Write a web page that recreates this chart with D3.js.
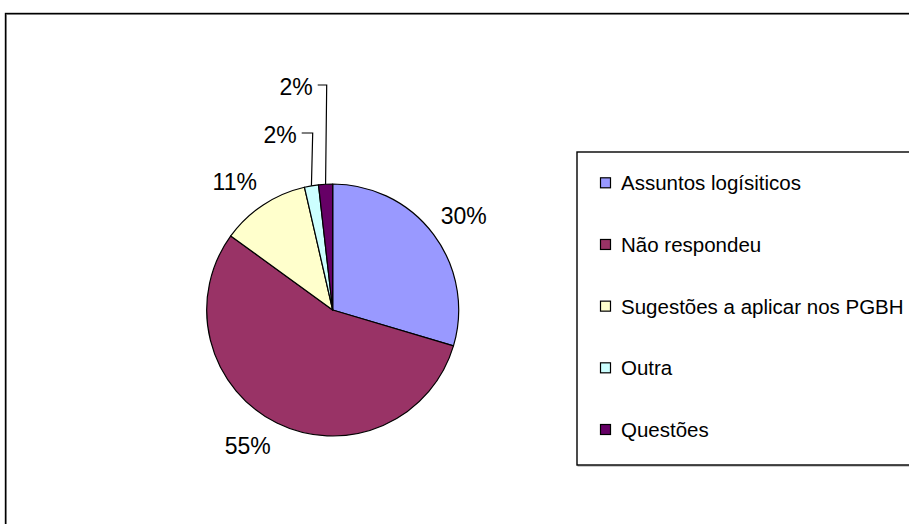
<!DOCTYPE html>
<html>
<head>
<meta charset="utf-8">
<script src="https://cdn.jsdelivr.net/npm/d3@7"></script>
<style>
  html, body { margin: 0; padding: 0; background: #fff; }
  svg { display: block; }
  text { font-family: "Liberation Sans", Arial, sans-serif; fill: #000; }
</style>
</head>
<body>
<svg id="chart" width="909" height="524"></svg>
<script>
// ---- data ----
const categories = ["Assuntos logísiticos", "Não respondeu", "Sugestões a aplicar nos PGBH", "Outra", "Questões"];
const values = [29.6, 55.4, 11.4, 1.8, 1.8];
const colors = ["#9999FF", "#993366", "#FFFFCC", "#CCFFFF", "#660066"];

// ---- layout ----
const W = 909, H = 524;
const cx = 332.7, cy = 310, R = 126;
// label anchor positions (relative to the pie centre) and leader elbow for small slices
const labelLayout = [
  { dx: 131, dy: -86, anchor: "middle" },
  { dx: -85, dy: 144, anchor: "middle" },
  { dx: -98, dy: -120, anchor: "middle" },
  { dx: -36, dy: -167, anchor: "end", elbowX: -20, elbowY: -177 },
  { dx: -20, dy: -215, anchor: "end", elbowX: -6, elbowY: -225 }
];

const svg = d3.select("#chart");

// outer frame (extends beyond the window on right/bottom)
svg.append("rect").attr("x", 6.5).attr("y", 14.5).attr("width", 1000).attr("height", 1000)
  .attr("fill", "none").attr("stroke", "#999").attr("stroke-width", 1);
svg.append("rect").attr("x", 5.5).attr("y", 13.5).attr("width", 1000).attr("height", 1000)
  .attr("fill", "none").attr("stroke", "#000").attr("stroke-width", 1.4);

// pie
const pie = d3.pie().value(d => d).sort(null);
const arcs = pie(values);
const arc = d3.arc().innerRadius(0).outerRadius(R);
const edgeArc = d3.arc().innerRadius(R).outerRadius(R);

const g = svg.append("g").attr("transform", `translate(${cx},${cy})`);
g.selectAll("path.slice").data(arcs).enter().append("path")
  .attr("class", "slice")
  .attr("d", arc)
  .attr("fill", (d, i) => colors[i])
  .attr("stroke", "#000")
  .attr("stroke-width", 1.2)
  .attr("stroke-linejoin", "round");

// labels
const fmt = v => Math.round(v) + "%";
g.selectAll("text.lbl").data(arcs).enter().append("text")
  .attr("class", "lbl")
  .attr("x", (d, i) => labelLayout[i].dx)
  .attr("y", (d, i) => labelLayout[i].dy)
  .attr("text-anchor", (d, i) => labelLayout[i].anchor)
  .attr("font-size", 23)
  .text(d => fmt(d.value));

// leader lines for small slices
arcs.forEach((d, i) => {
  const L = labelLayout[i];
  if (L.elbowX === undefined) return;
  const p = edgeArc.centroid(d);
  const startX = L.dx + 5;
  g.append("polyline")
    .attr("points", `${startX},${L.elbowY} ${L.elbowX},${L.elbowY} ${p[0]},${p[1]}`)
    .attr("fill", "none").attr("stroke", "#000").attr("stroke-width", 1.2);
});

// legend
const lgX = 577, lgY = 152, lgH = 313;
svg.append("rect").attr("x", lgX + 1).attr("y", lgY + 1).attr("width", 1000).attr("height", lgH)
  .attr("fill", "none").attr("stroke", "#999").attr("stroke-width", 1);
svg.append("rect").attr("x", lgX).attr("y", lgY).attr("width", 1000).attr("height", lgH)
  .attr("fill", "#fff").attr("stroke", "#000").attr("stroke-width", 1.4);

const rowY = d3.scalePoint().domain(categories).range([183.3, 430]);
const lg = svg.append("g");
const rows = lg.selectAll("g.row").data(categories).enter().append("g")
  .attr("class", "row")
  .attr("transform", d => `translate(${lgX},${rowY(d)})`);
rows.append("rect")
  .attr("x", 23.5).attr("y", -5.5).attr("width", 10).attr("height", 10)
  .attr("fill", (d, i) => colors[i]).attr("stroke", "#000").attr("stroke-width", 1.2);
rows.append("text")
  .attr("x", 44).attr("y", 7)
  .attr("font-size", 20.5)
  .text(d => d);
</script>
</body>
</html>
